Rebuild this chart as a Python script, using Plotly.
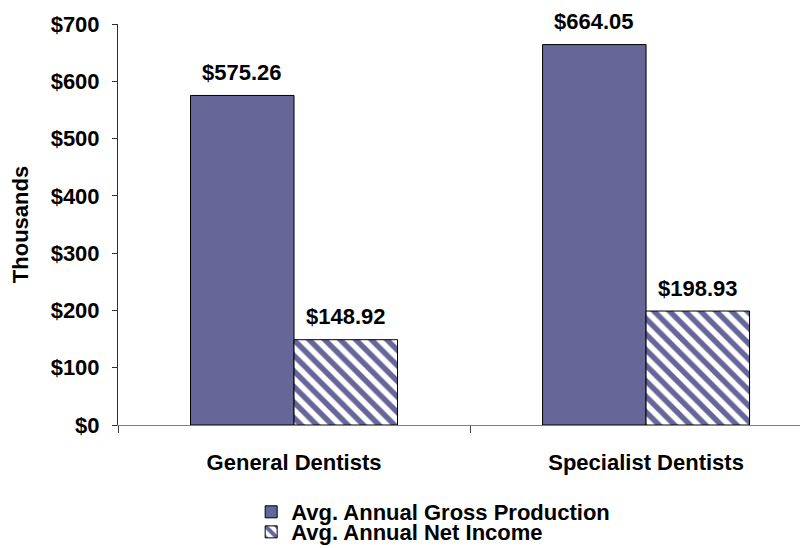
import plotly.graph_objects as go

categories = ["General Dentists", "Specialist Dentists"]
gross_production = [575.26, 664.05]
net_income = [148.92, 198.93]
series_names = ["Avg. Annual Gross Production", "Avg. Annual Net Income"]
y_tick_values = [0, 100, 200, 300, 400, 500, 600, 700]
y_tick_labels = ["$0", "$100", "$200", "$300", "$400", "$500", "$600", "$700"]

FONT = "Liberation Sans, Arial, sans-serif"
PURPLE = "#666699"
FS = 22


def bold(size=FS):
    return dict(family=FONT, size=size, color="black", weight="bold")


fig = go.Figure()
fig.add_trace(go.Bar(
    x=categories, y=gross_production, name=series_names[0],
    marker=dict(color=PURPLE, line=dict(color="black", width=1)),
    legend="legend",
))
fig.add_trace(go.Bar(
    x=categories, y=net_income, name=series_names[1],
    marker=dict(color="white", line=dict(color="black", width=1),
                pattern=dict(shape="\\", fgcolor=PURPLE, bgcolor="white",
                             size=11, solidity=0.5, fgopacity=1)),
    legend="legend2",
))

# value labels above bars (offset to each bar of the group)
for values, shift in ((gross_production, -51.75), (net_income, 51.75)):
    for cat, v in zip(categories, values):
        fig.add_annotation(x=cat, y=v, xref="x", yref="y", text=f"${v:.2f}",
                           showarrow=False, xshift=shift, yshift=23,
                           yanchor="middle", xanchor="center", font=bold())

fig.update_layout(
    width=800, height=540,
    margin=dict(l=110, r=0, t=16, b=123, autoexpand=False),
    plot_bgcolor="white", paper_bgcolor="white",
    barmode="group", bargap=0.412, bargroupgap=0,
    font=bold(),
    showlegend=True,
    legend=dict(x=0.193, xanchor="left", y=-0.217, yanchor="middle",
                font=bold(), itemwidth=30, bgcolor="rgba(0,0,0,0)"),
    legend2=dict(x=0.193, xanchor="left", y=-0.267, yanchor="middle",
                 font=bold(), itemwidth=30, bgcolor="rgba(0,0,0,0)"),
)
fig.update_xaxes(
    type="category", range=[-0.5, 1.46], automargin=False,
    showline=True, linecolor="#808080", linewidth=1,
    ticks="outside", tickson="boundaries", ticklen=7, tickcolor="#404040",
    ticklabelstandoff=18, showgrid=False, zeroline=False,
    tickfont=bold(),
)
fig.update_yaxes(
    range=[0, 700], tickvals=y_tick_values, ticktext=y_tick_labels, automargin=False,
    showline=True, linecolor="#303030", linewidth=1,
    ticks="outside", ticklen=5, tickcolor="#303030",
    ticklabelstandoff=8, showgrid=False, zeroline=False,
    tickfont=bold(),
    title=dict(text="Thousands", standoff=21, font=bold()),
)

fig.write_html("out.html")
